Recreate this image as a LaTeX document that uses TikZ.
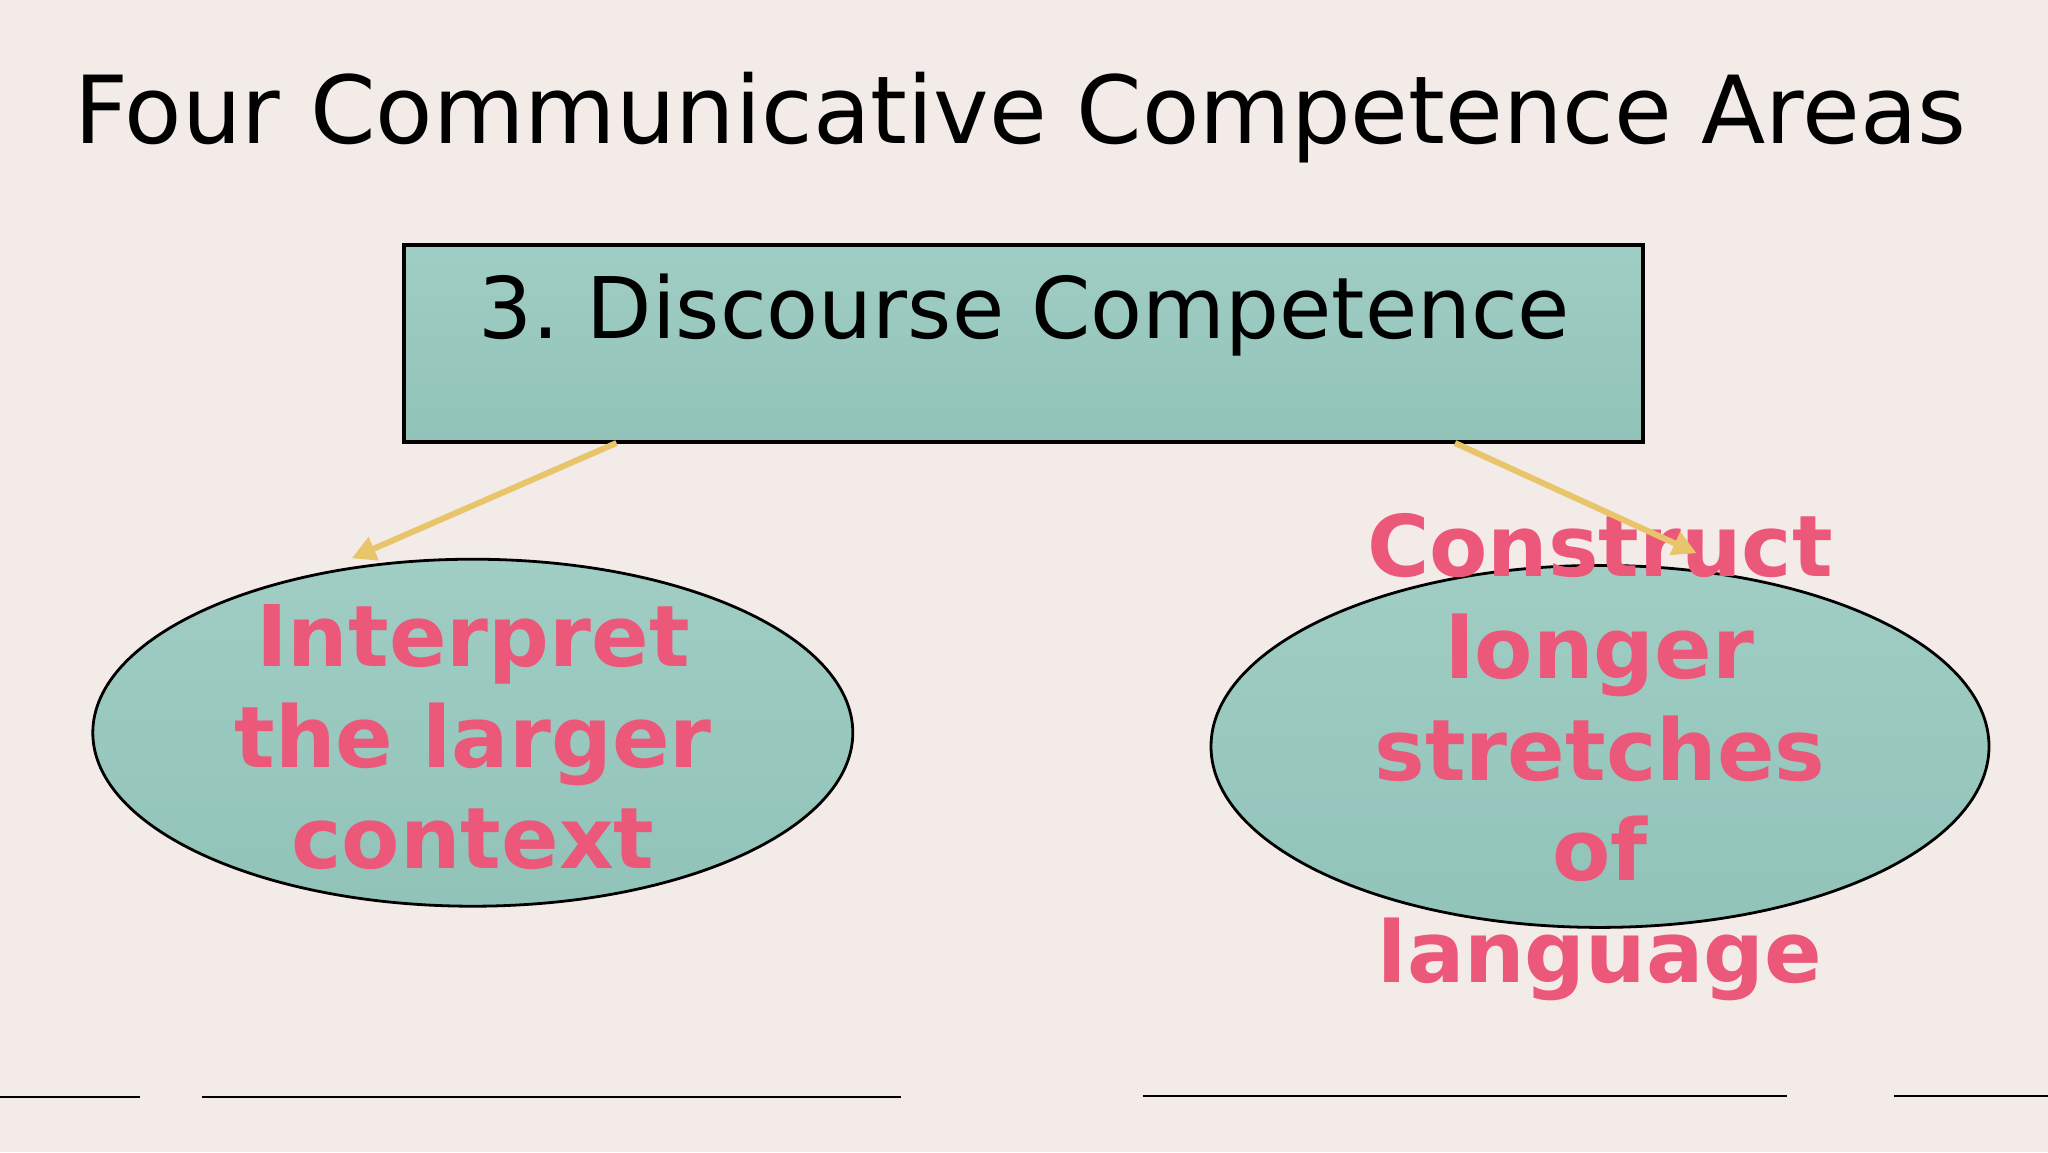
\documentclass[tikz,border=0pt]{standalone}
\usepackage{fontspec}
\setmainfont{DejaVu Sans}
\usetikzlibrary{shapes.geometric,arrows.meta}
\definecolor{bgc}{RGB}{243,235,232}
\definecolor{tealtop}{RGB}{160,205,196}
\definecolor{tealbot}{RGB}{145,195,185}
\definecolor{pinkt}{RGB}{236,88,122}
\definecolor{goldc}{RGB}{232,196,106}
\frenchspacing
\tikzset{
  boxstyle/.style={draw=black, line width=3.4pt, top color=tealtop, bottom color=tealbot, minimum width=1239pt, minimum height=197pt, inner sep=0pt},
  ellstyle/.style={ellipse, draw=black, line width=2.8pt, top color=tealtop, bottom color=tealbot, inner sep=0pt},
  pinktext/.style={text=pinkt, font=\fontsize{85}{102}\selectfont\bfseries, anchor=base, inner sep=0pt},
  titletext/.style={font=\fontsize{93.9}{110}\selectfont, anchor=base west, inner sep=0pt},
  boxtext/.style={font=\fontsize{85}{100}\selectfont, anchor=base, inner sep=0pt},
  goldarrow/.style={draw=goldc, line width=6pt, -{Triangle[length=24pt,width=24pt]}},
  baseline/.style={draw=black, line width=2.8pt}
}
\begin{document}
\begin{tikzpicture}[x=1pt,y=-1pt]
\fill[bgc] (0,0) rectangle (2048,1152);
\useasboundingbox (0,0) rectangle (2048,1152);
% title
\node[titletext] (title) at (74,143) {Four Communicative Competence Areas};
% box
\node[boxstyle] (box) at (1023.5,343.5) {};
\node[boxtext] (boxt) at (1024.5,338) {3. Discourse Competence};
% ellipses
\node[ellstyle, minimum width=760pt, minimum height=347pt] (lell) at (472.8,732.7) {};
\node[ellstyle, minimum width=778pt, minimum height=362pt] (rell) at (1600,746.4) {};
% left text
\node[pinktext] (l1) at (473,666) {Interpret};
\node[pinktext] (l2) at (473,767) {the larger};
\node[pinktext] (l3) at (473,868) {context};
% right text
\node[pinktext] (r1) at (1600,576) {Construct};
\node[pinktext] (r2) at (1600,678) {longer};
\node[pinktext] (r3) at (1600,780) {stretches};
\node[pinktext] (r4) at (1600,880) {of};
\node[pinktext] (r5) at (1600,982) {language};
% arrows
\coordinate (as1) at (616.5,443);
\coordinate (at1) at (351.7,558.3);
\coordinate (as2) at (1455,443);
\coordinate (at2) at (1696.7,553.3);
\draw[goldarrow] (as1) -- (at1);
\draw[goldarrow] (as2) -- (at2);
% bottom lines
\coordinate (b1a) at (0,1097);
\coordinate (b1b) at (140,1097);
\coordinate (b2a) at (202.4,1097);
\coordinate (b2b) at (901.2,1097);
\coordinate (b3a) at (1142.8,1096);
\coordinate (b3b) at (1786.8,1096);
\coordinate (b4a) at (1893.9,1096);
\coordinate (b4b) at (2048,1096);
\draw[baseline] (b1a) -- (b1b);
\draw[baseline] (b2a) -- (b2b);
\draw[baseline] (b3a) -- (b3b);
\draw[baseline] (b4a) -- (b4b);
\end{tikzpicture}
\end{document}
